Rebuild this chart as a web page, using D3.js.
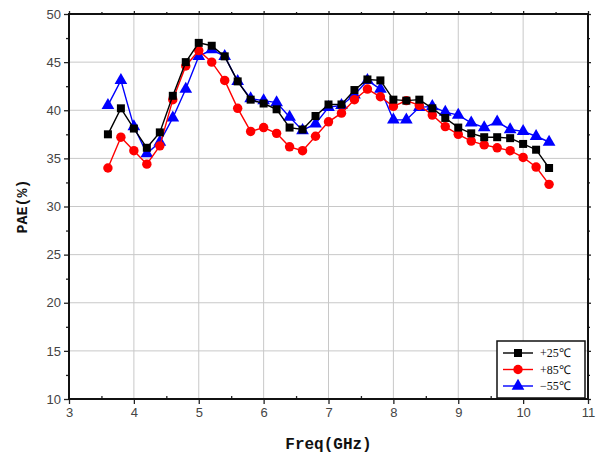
<!DOCTYPE html>
<html><head><meta charset="utf-8">
<script src="https://cdn.jsdelivr.net/npm/d3@7"></script>
<style>body{margin:0;background:#fff}</style>
</head><body>
<svg id="c" width="599" height="461"></svg>
<script>
const freq = [3.6,3.8,4.0,4.2,4.4,4.6,4.8,5.0,5.2,5.4,5.6,5.8,6.0,6.2,6.4,6.6,6.8,7.0,7.2,7.4,7.6,7.8,8.0,8.2,8.4,8.6,8.8,9.0,9.2,9.4,9.6,9.8,10.0,10.2,10.4];
const pae25 = [37.5,40.2,38.1,36.1,37.7,41.5,45.0,47.0,46.7,45.6,43.0,41.1,40.7,40.1,38.2,38.0,39.4,40.6,40.6,42.1,43.2,43.1,41.1,41.0,41.1,40.2,39.2,38.2,37.6,37.2,37.2,37.1,36.5,35.9,34.0];
const pae85 = [34.0,37.2,35.8,34.4,36.3,41.1,44.6,46.2,45.0,43.1,40.2,37.8,38.2,37.6,36.2,35.8,37.3,38.8,39.7,41.1,42.2,41.4,40.4,41.0,40.5,39.5,38.3,37.5,36.8,36.4,36.1,35.8,35.1,34.1,32.3];
const paeM55 = [40.5,43.1,38.3,35.5,36.7,39.2,42.2,45.6,46.3,45.6,43.0,41.2,41.0,40.8,39.3,37.9,38.6,40.3,40.5,41.6,43.1,42.2,39.0,39.0,40.3,40.4,39.8,39.5,38.7,38.2,38.8,38.0,37.8,37.3,36.7];
const seriesNames = ["+25℃","+85℃","−55℃"];
const seriesColors = ["#000000","#ff0000","#0000ff"];
const seriesShapes = [d3.symbolSquare, d3.symbolCircle, d3.symbolTriangle];
const xTicks = [3,4,5,6,7,8,9,10,11];
const yTicks = [10,15,20,25,30,35,40,45,50];

const svg = d3.select("#c");
const L=69, R=588, T=14, B=399;
const x = d3.scaleLinear().domain([3,11]).range([L,R]);
const y = d3.scaleLinear().domain([10,50]).range([B,T]);

// grid
svg.append("g").selectAll("line.gx").data(xTicks.slice(1,-1)).join("line")
  .attr("x1",d=>x(d)).attr("x2",d=>x(d)).attr("y1",T).attr("y2",B)
  .attr("stroke","#c8c8c8").attr("stroke-width",1);
svg.append("g").selectAll("line.gy").data(yTicks.slice(1,-1)).join("line")
  .attr("y1",d=>y(d)).attr("y2",d=>y(d)).attr("x1",L).attr("x2",R)
  .attr("stroke","#c8c8c8").attr("stroke-width",1);

// axes
const xMinor = d3.range(3.5,11,1);
const yMinor = d3.range(12.5,50,5);
function styleAxis(g){
  g.select(".domain").remove();
  g.selectAll(".tick line").attr("stroke","#222").attr("stroke-width",1.3);
  g.selectAll(".tick text").attr("fill","#444").style("font-family","Liberation Sans, Arial, sans-serif").style("font-size","13px");
}
const gx = svg.append("g").attr("transform",`translate(0,${B})`)
  .call(d3.axisBottom(x).tickValues(xTicks).tickFormat(d3.format("d")).tickSize(5).tickPadding(4));
styleAxis(gx);
svg.append("g").attr("transform",`translate(0,${B})`)
  .call(d3.axisTop(x).tickValues(xMinor).tickFormat("").tickSize(3)).call(styleAxis);
const gy = svg.append("g").attr("transform",`translate(${L},0)`)
  .call(d3.axisLeft(y).tickValues(yTicks).tickFormat(d3.format("d")).tickSize(5).tickPadding(3));
styleAxis(gy);
svg.append("g").attr("transform",`translate(${L},0)`)
  .call(d3.axisLeft(y).tickValues(yMinor).tickFormat("").tickSize(3)).call(styleAxis);
// top & right mirror ticks
svg.append("g").attr("transform",`translate(0,${T})`)
  .call(d3.axisTop(x).tickValues(xTicks).tickFormat("").tickSize(3)).call(styleAxis);
svg.append("g").attr("transform",`translate(0,${T})`)
  .call(d3.axisTop(x).tickValues(xMinor).tickFormat("").tickSize(2)).call(styleAxis);
svg.append("g").attr("transform",`translate(${R},0)`)
  .call(d3.axisRight(y).tickValues(yTicks).tickFormat("").tickSize(3)).call(styleAxis);
svg.append("g").attr("transform",`translate(${R},0)`)
  .call(d3.axisRight(y).tickValues(yMinor).tickFormat("").tickSize(2)).call(styleAxis);

// frame
svg.append("rect").attr("x",L).attr("y",T).attr("width",R-L).attr("height",B-T)
  .attr("fill","none").attr("stroke","#111").attr("stroke-width",2);

// series
const all = [pae25, pae85, paeM55];
const sizes = [64, 70, 70];
const drawOrder = [2,1,0];
drawOrder.forEach(i=>{
  const data = freq.map((f,k)=>[f, all[i][k]]);
  svg.append("path").datum(data)
    .attr("fill","none").attr("stroke",seriesColors[i]).attr("stroke-width",1.4)
    .attr("d", d3.line().x(d=>x(d[0])).y(d=>y(d[1])));
  svg.append("g").selectAll("path").data(data).join("path")
    .attr("transform",d=>`translate(${x(d[0])},${y(d[1])})`)
    .attr("d", d3.symbol().type(seriesShapes[i]).size(sizes[i]))
    .attr("fill",seriesColors[i]);
});

// labels
svg.append("text").attr("x",(L+R)/2).attr("y",449).attr("text-anchor","middle")
  .style("font-family","Liberation Mono, Courier New, monospace").style("font-weight","bold").style("font-size","16px")
  .attr("fill","#111").text("Freq(GHz)");
svg.append("text").attr("transform",`translate(27,${(T+B)/2}) rotate(-90)`).attr("text-anchor","middle")
  .style("font-family","Liberation Mono, Courier New, monospace").style("font-weight","bold").style("font-size","15px")
  .attr("fill","#111").text("PAE(%)");

// legend
const lg = svg.append("g");
lg.append("rect").attr("x",497).attr("y",341).attr("width",88).attr("height",57)
  .attr("fill","#fff").attr("stroke","#111").attr("stroke-width",1.5);
seriesNames.forEach((n,i)=>{
  const yy = 353 + i*16.5;
  lg.append("line").attr("x1",503).attr("x2",533).attr("y1",yy).attr("y2",yy)
    .attr("stroke",seriesColors[i]).attr("stroke-width",1.4);
  lg.append("path").attr("transform",`translate(518,${yy})`)
    .attr("d", d3.symbol().type(seriesShapes[i]).size(sizes[i])).attr("fill",seriesColors[i]);
  lg.append("text").attr("x",540).attr("y",yy+4).text(n)
    .style("font-family","Liberation Serif, Times New Roman, serif").style("font-size","12px").attr("fill","#111");
});
</script>
</body></html>
